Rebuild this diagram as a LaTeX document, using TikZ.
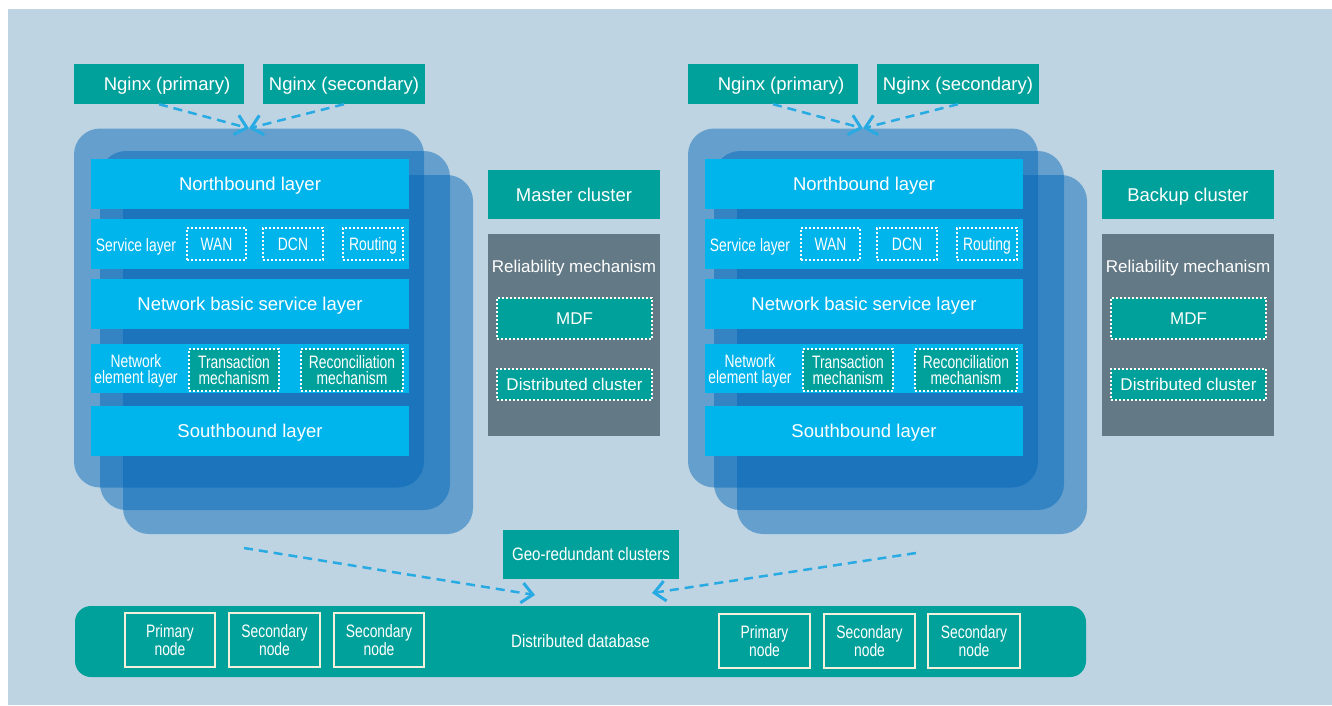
\documentclass[tikz,border=0pt]{standalone}
\usepackage{fontspec}
\setmainfont{Liberation Sans}
\newfontfamily\narrowfont[FakeStretch=0.77]{Liberation Sans}
\newfontfamily\semifont[FakeStretch=0.84]{Liberation Sans}
\usepackage{tikz}
\usetikzlibrary{arrows.meta}
\definecolor{hwbg}{RGB}{190,212,226}
\definecolor{hwteal}{RGB}{0,161,154}
\definecolor{hwcyan}{RGB}{0,180,236}
\definecolor{hwblue}{RGB}{0,101,183}
\definecolor{hwgray}{RGB}{99,121,133}
\definecolor{hwarrow}{RGB}{40,170,226}
\definecolor{hwcream}{RGB}{245,240,220}

\begin{document}
\begin{tikzpicture}[x=1pt, y=-1pt,
  onerow/.style={text height=#1, text depth=0pt},
  tealbox/.style={rectangle, fill=hwteal, text=white, inner sep=0pt, onerow=13.3pt,
                  font=\fontsize{18.5}{22}\selectfont},
  stack/.style={rectangle, rounded corners=26pt, fill=hwblue, fill opacity=0.47,
                minimum width=350pt, minimum height=359pt, inner sep=0pt},
  layer/.style={rectangle, fill=hwcyan, text=white, minimum width=318pt, onerow=13.3pt,
                minimum height=50pt, inner sep=0pt, font=\fontsize{18.5}{22}\selectfont},
  tag/.style={text=white, inner sep=0pt, align=center,
              font=\narrowfont\fontsize{18}{16}\selectfont},
  dotbox/.style={rectangle, draw=white, line width=2pt, dash pattern=on 2pt off 2pt,
                 text=white, inner sep=0pt, align=center,
                 font=\narrowfont\fontsize{18}{16}\selectfont},
  relbox/.style={rectangle, fill=hwgray, minimum width=172pt, minimum height=202pt,
                 inner sep=0pt},
  reltext/.style={text=white, inner sep=0pt, onerow=12.2pt, font=\fontsize{17}{20}\selectfont},
  mdfbox/.style={rectangle, fill=hwteal, draw=white, line width=2pt,
                 dash pattern=on 2pt off 2pt, text=white, inner sep=0pt, onerow=12.2pt,
                 minimum width=155pt, font=\fontsize{17}{20}\selectfont},
  dbnode/.style={rectangle, draw=hwcream, line width=2pt, text=white, inner sep=0pt,
                 minimum height=54pt, align=center,
                 font=\narrowfont\fontsize{18}{16}\selectfont},
  link/.style={draw=hwarrow, line width=2.5pt, dash pattern=on 9pt off 6pt,
               -{Straight Barb[length=11pt, width=20pt, line width=3pt]}}
]
\useasboundingbox (0,0) rectangle (1332,705);
\fill[hwbg] (8,9) rectangle (1332,705);

% Master side: load balancers
\node[tealbox, minimum width=170pt, minimum height=40pt] (nginxAP) at (159,84) {\hspace*{16pt}Nginx (primary)};
\node[tealbox, minimum width=162pt, minimum height=40pt] (nginxAS) at (344,84) {Nginx (secondary)};

% Master side: stacked controller instances
\node[stack] (stackA1) at (249,308) {};
\node[stack] (stackA2) at (275,330.5) {};
\node[stack] (stackA3) at (298,354.5) {};

% Master side: layers
\node[layer] (northA) at (250,184) {Northbound layer};
\node[layer] (serviceA) at (250,244) {};
\node[tag, onerow=12.9pt] (serviceAtxt) at (136,245) {Service layer};
\node[dotbox, onerow=12.9pt, minimum width=59pt, minimum height=32pt] (wanA) at (216.5,244) {WAN};
\node[dotbox, onerow=12.9pt, minimum width=60pt, minimum height=32pt] (dcnA) at (293,244) {DCN};
\node[dotbox, onerow=12.9pt, minimum width=60pt, minimum height=32pt] (routingA) at (373,244) {Routing};
\node[layer] (basicA) at (250,304) {Network basic service layer};
\node[layer, minimum height=49pt] (neA) at (250,368.5) {};
\node[tag] (neAtxt) at (136,371) {Network\\element layer};
\node[dotbox, fill=hwteal, minimum width=90pt, minimum height=42pt] (transA) at (234,370) {Transaction\\mechanism};
\node[dotbox, fill=hwteal, minimum width=102pt, minimum height=42pt] (reconA) at (352,370) {Reconciliation\\mechanism};
\node[layer] (southA) at (250,431) {Southbound layer};

% Master side: cluster and reliability
\node[tealbox, minimum width=172pt, minimum height=49pt] (master) at (574,194.5) {Master cluster};
\node[relbox] (relA) at (574,335) {};
\node[reltext] (relAtxt) at (574,266) {Reliability mechanism};
\node[mdfbox, minimum height=41pt] (mdfA) at (574.5,318.5) {MDF};
\node[mdfbox, minimum height=31pt] (dcA) at (574.5,384) {Distributed cluster};

% Backup side: load balancers
\node[tealbox, minimum width=170pt, minimum height=40pt] (nginxBP) at (773,84) {\hspace*{16pt}Nginx (primary)};
\node[tealbox, minimum width=162pt, minimum height=40pt] (nginxBS) at (958,84) {Nginx (secondary)};

% Backup side: stacked controller instances
\node[stack] (stackB1) at (863,308) {};
\node[stack] (stackB2) at (889,330.5) {};
\node[stack] (stackB3) at (912,354.5) {};

% Backup side: layers
\node[layer] (northB) at (864,184) {Northbound layer};
\node[layer] (serviceB) at (864,244) {};
\node[tag, onerow=12.9pt] (serviceBtxt) at (750,245) {Service layer};
\node[dotbox, onerow=12.9pt, minimum width=59pt, minimum height=32pt] (wanB) at (830.5,244) {WAN};
\node[dotbox, onerow=12.9pt, minimum width=60pt, minimum height=32pt] (dcnB) at (907,244) {DCN};
\node[dotbox, onerow=12.9pt, minimum width=60pt, minimum height=32pt] (routingB) at (987,244) {Routing};
\node[layer] (basicB) at (864,304) {Network basic service layer};
\node[layer, minimum height=49pt] (neB) at (864,368.5) {};
\node[tag] (neBtxt) at (750,371) {Network\\element layer};
\node[dotbox, fill=hwteal, minimum width=90pt, minimum height=42pt] (transB) at (848,370) {Transaction\\mechanism};
\node[dotbox, fill=hwteal, minimum width=102pt, minimum height=42pt] (reconB) at (966,370) {Reconciliation\\mechanism};
\node[layer] (southB) at (864,431) {Southbound layer};

% Backup side: cluster and reliability
\node[tealbox, minimum width=172pt, minimum height=49pt] (backup) at (1188,194.5) {Backup cluster};
\node[relbox] (relB) at (1188,335) {};
\node[reltext] (relBtxt) at (1188,266) {Reliability mechanism};
\node[mdfbox, minimum height=41pt] (mdfB) at (1188.5,318.5) {MDF};
\node[mdfbox, minimum height=31pt] (dcB) at (1188.5,384) {Distributed cluster};

% Geo-redundancy and database
\node[tealbox, minimum width=176pt, minimum height=49pt, onerow=12.9pt,
      font=\semifont\fontsize{18}{22}\selectfont] (geo) at (591,554.5) {Geo-redundant clusters};
\node[rectangle, rounded corners=16pt, fill=hwteal, text=white, inner sep=0pt,
      minimum width=1011pt, minimum height=71pt, onerow=12.9pt,
      font=\semifont\fontsize{18}{22}\selectfont] (db) at (580.5,641.5) {Distributed database};
\node[dbnode, minimum width=90pt] (dbA1) at (170,640) {Primary\\node};
\node[dbnode, minimum width=91pt] (dbA2) at (274.5,640) {Secondary\\node};
\node[dbnode, minimum width=90pt] (dbA3) at (379,640) {Secondary\\node};
\node[dbnode, minimum width=91pt] (dbB1) at (764.5,641) {Primary\\node};
\node[dbnode, minimum width=91pt] (dbB2) at (869.5,641) {Secondary\\node};
\node[dbnode, minimum width=92pt] (dbB3) at (974,641) {Secondary\\node};

% Arrows
\coordinate (fromA) at (244,548);
\coordinate (toA) at (535,595);
\coordinate (fromB) at (916,553);
\coordinate (toB) at (652,593);
\draw[link] (nginxAP.south) -- (stackA1.north);
\draw[link] (nginxAS.south) -- (stackA1.north);
\draw[link] (nginxBP.south) -- (stackB1.north);
\draw[link] (nginxBS.south) -- (stackB1.north);
\draw[link] (fromA) -- (toA);
\draw[link] (fromB) -- (toB);

\end{tikzpicture}
\end{document}
